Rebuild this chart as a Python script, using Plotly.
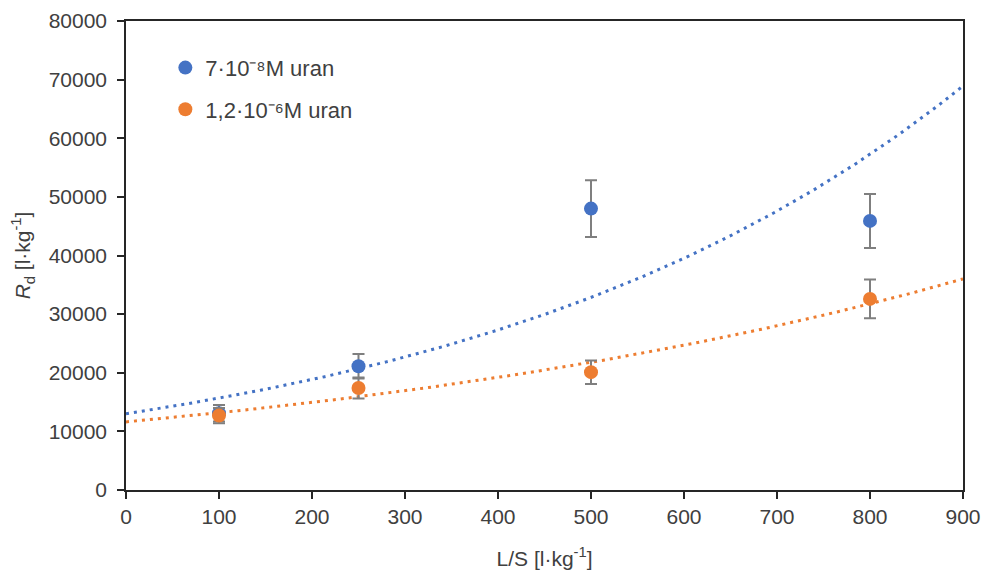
import numpy as np
import plotly.graph_objects as go

# L/S ratios [l/kg]
ls_ratio = [100, 250, 500, 800]

# Distribution ratio Rd [l/kg] and standard deviation for each uranium concentration
rd_low = [13100, 21100, 48000, 45900]
err_low = [1400, 2100, 4850, 4600]
rd_high = [12700, 17400, 20100, 32600]
err_high = [1300, 1800, 2000, 3300]

names = ["7·10⁻⁸M uran", "1,2·10⁻⁶M uran"]
colors = ["#4472C4", "#ED7D31"]

FONT = "Liberation Sans"
AXIS_COLOR = "#404040"


def exp_trend(x, y, x_out):
    """Exponential trendline y = a*exp(b*x) fitted on log(y)."""
    b, ln_a = np.polyfit(np.asarray(x, float), np.log(np.asarray(y, float)), 1)
    return np.exp(ln_a) * np.exp(b * x_out)


x_fit = np.linspace(0, 900, 300)
fig = go.Figure()

# trendlines drawn first so markers sit on top
for y, c in zip([rd_low, rd_high], colors):
    fig.add_trace(go.Scatter(
        x=x_fit, y=exp_trend(ls_ratio, y, x_fit), mode="lines",
        line=dict(color=c, width=3, dash="3px,5px"),
        hoverinfo="skip", showlegend=False,
    ))

for i, (y, e, c, n) in enumerate(zip([rd_low, rd_high], [err_low, err_high], colors, names)):
    fig.add_trace(go.Scatter(
        x=ls_ratio, y=y, mode="markers", name=n, legendgroup=f"g{i}",
        marker=dict(color=c, size=14),
        error_y=dict(type="data", array=e, visible=True, color="#7F7F7F",
                     thickness=2, width=6),
    ))

axis_common = dict(
    showline=True, linecolor="#262626", linewidth=1.5, mirror=True,
    ticks="outside", ticklen=7, tickwidth=1.5, tickcolor="#262626",
    showgrid=False, zeroline=False, automargin=False,
    tickfont=dict(family=FONT, size=21, color=AXIS_COLOR),
)

fig.update_layout(
    width=985, height=573,
    margin=dict(l=126, r=22, t=21, b=83),
    paper_bgcolor="white", plot_bgcolor="white",
    font=dict(family=FONT, color=AXIS_COLOR),
    xaxis=dict(range=[0, 900], dtick=100, tickformat="d",
               title=dict(text="L/S [l·kg<sup>-1</sup>]", standoff=24,
                          font=dict(family=FONT, size=21, color=AXIS_COLOR)),
               **axis_common),
    yaxis=dict(range=[0, 80000], dtick=10000, tickformat="d", ticklabelstandoff=6,
               title=dict(text="<i>R</i><sub>d</sub> [l·kg<sup>-1</sup>]", standoff=12,
                          font=dict(family=FONT, size=21, color=AXIS_COLOR)),
               **axis_common),
    legend=dict(x=0.047, y=0.945, xanchor="left", yanchor="top",
                font=dict(family=FONT, size=22, color=AXIS_COLOR),
                traceorder="grouped", tracegroupgap=10,
                bgcolor="rgba(0,0,0,0)", itemwidth=30),
    showlegend=True,
)

fig.write_html("out.html")
